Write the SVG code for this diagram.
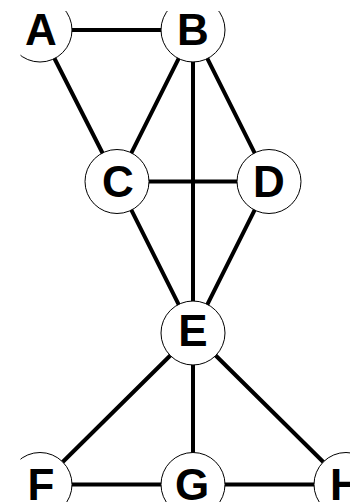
<svg xmlns="http://www.w3.org/2000/svg" width="350" height="502" viewBox="0 0 350 502">
<defs>
<clipPath id="vis"><rect x="20.5" y="11" width="340" height="500"/></clipPath>
</defs>
<style>
.edge{stroke:#000;stroke-width:4;stroke-linecap:round;fill:none}
.node circle{fill:#fff;stroke:#000;stroke-width:1;clip-path:url(#vis)}
.node text{font-family:"Liberation Sans",Arial,sans-serif;font-weight:bold;font-size:44px;text-anchor:middle;fill:#000}
</style>
<rect width="350" height="502" fill="#fff"/>
<g id="connectors">
<line class="edge" x1="72" y1="30" x2="161" y2="30"/>
<line class="edge" x1="54.5" y1="58.5" x2="102.5" y2="153"/>
<line class="edge" x1="178.6" y1="58.6" x2="131.4" y2="152.9"/>
<line class="edge" x1="207.4" y1="58.6" x2="254.6" y2="152.9"/>
<line class="edge" x1="193" y1="62" x2="193" y2="301"/>
<line class="edge" x1="149" y1="181.5" x2="237" y2="181.5"/>
<line class="edge" x1="131.4" y1="210.1" x2="178.6" y2="304.4"/>
<line class="edge" x1="254.6" y1="210.1" x2="207.4" y2="304.4"/>
<line class="edge" x1="170.3" y1="355.5" x2="62.7" y2="462"/>
<line class="edge" x1="193" y1="365" x2="193" y2="452.5"/>
<line class="edge" x1="215.7" y1="355.5" x2="323.3" y2="462"/>
<line class="edge" x1="72" y1="484.5" x2="161" y2="484.5"/>
<line class="edge" x1="225" y1="484.5" x2="314" y2="484.5"/>
</g>
<g id="A" class="node"><circle cx="40" cy="30" r="32"/><text x="41" y="45">A</text></g>
<g id="B" class="node"><circle cx="193" cy="30" r="32"/><text x="193" y="45">B</text></g>
<g id="C" class="node"><circle cx="117" cy="181.5" r="32"/><text x="118" y="196.5">C</text></g>
<g id="D" class="node"><circle cx="269" cy="181.5" r="32"/><text x="269" y="196.5">D</text></g>
<g id="E" class="node"><circle cx="193" cy="333" r="32"/><text x="193" y="346">E</text></g>
<g id="F" class="node"><circle cx="40" cy="484.5" r="32"/><text x="41" y="499.5">F</text></g>
<g id="G" class="node"><circle cx="193" cy="484.5" r="32"/><text x="192" y="499.5">G</text></g>
<g id="H" class="node"><circle cx="346" cy="484.5" r="32"/><text x="346" y="499.5">H</text></g>
</svg>
